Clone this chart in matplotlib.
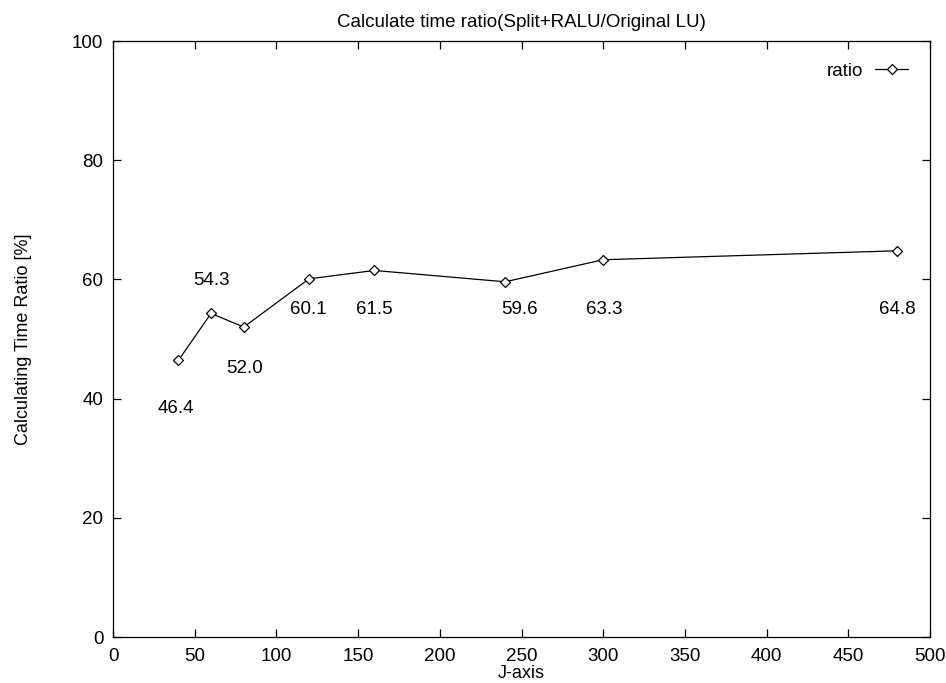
import matplotlib.pyplot as plt

plt.rcParams['font.family'] = ['Liberation Sans', 'DejaVu Sans']

j_axis = [40, 60, 80, 120, 160, 240, 300, 480]
ratio = [46.4, 54.3, 52.0, 60.1, 61.5, 59.6, 63.3, 64.8]
# label offsets from each point, in pixels (right, down)
label_offsets = [(-2, 48), (0, -33), (1, 41), (-1, 31), (0, 39), (14, 28), (1, 50), (0, 59)]

fig = plt.figure(figsize=(9.46, 6.83), dpi=100)
ax = fig.add_axes([113 / 946, 1 - 637 / 683, 817 / 946, 596 / 683])

ax.plot(j_axis, ratio, '-', color='black', lw=0.9, marker='D', ms=5,
        mfc='white', mec='black', mew=0.9, label='ratio')

for x, y, (dx, dy) in zip(j_axis, ratio, label_offsets):
    ax.annotate('%.1f' % y, (x, y), xytext=(dx * 0.72, -dy * 0.72),
                textcoords='offset points', ha='center', va='center', fontsize=13.5)

ax.set_xlim(0, 500)
ax.set_ylim(0, 100)
ax.set_xticks(range(0, 501, 50))
ax.set_yticks(range(0, 101, 20))
ax.tick_params(direction='in', length=6, width=0.9, top=True, right=True,
               labelsize=13.5, pad=7)
ax.tick_params(axis='x', pad=8)
for s in ax.spines.values():
    s.set_linewidth(0.9)

ax.set_title('Calculate time ratio(Split+RALU/Original LU)', fontsize=13.5, pad=10)
ax.set_xlabel('J-axis', fontsize=13, labelpad=0)
ax.set_ylabel('Calculating Time Ratio [%]', fontsize=13, labelpad=29)

ax.legend(loc='upper right', frameon=False, markerfirst=False, fontsize=13.5,
          handlelength=1.8, handletextpad=0.6, borderaxespad=0.75)

fig.savefig('out.png', dpi=100)
